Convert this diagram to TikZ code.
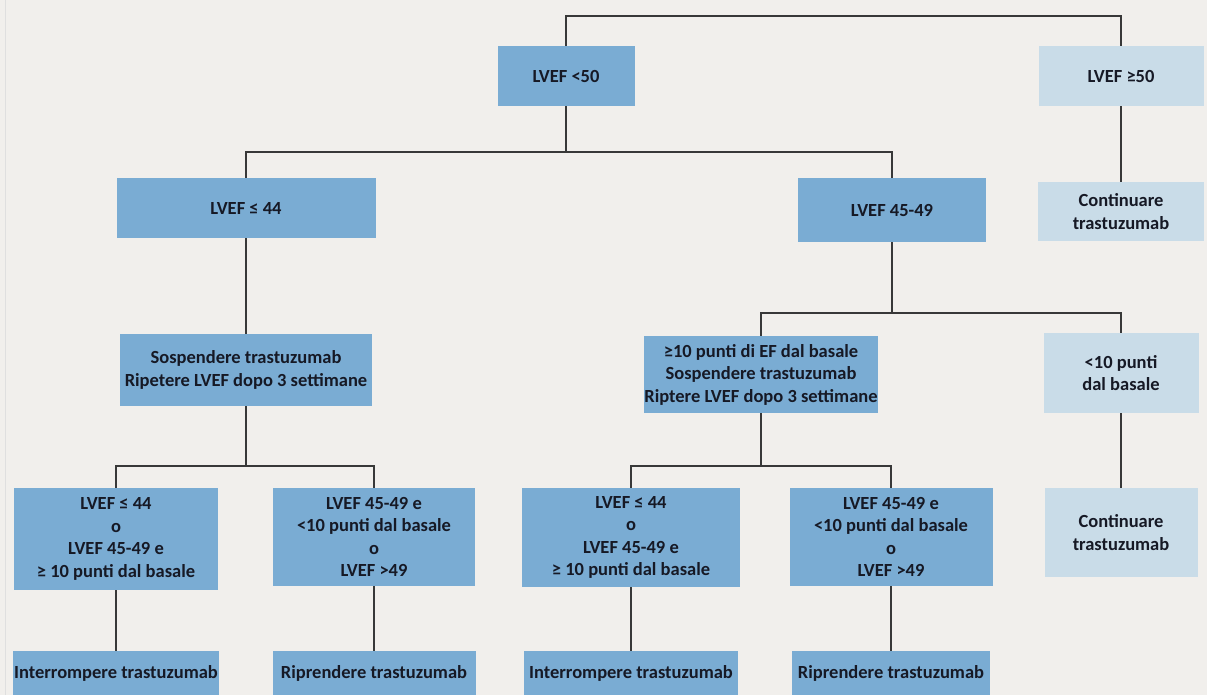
\documentclass[tikz,border=0pt]{standalone}
\usepackage{fontspec}
\setmainfont{Carlito}

\definecolor{bgcol}{HTML}{F1EFEC}
\definecolor{boxblue}{HTML}{7AACD3}
\definecolor{boxpale}{HTML}{C9DCE8}
\definecolor{ink}{HTML}{161925}
\definecolor{wirecol}{HTML}{383838}

\begin{document}
\begin{tikzpicture}[x=1pt, y=-1pt,
    box/.style={rectangle, fill=boxblue, text=ink, inner sep=0pt, align=center,
        font=\bfseries\fontsize{18.5}{22.5}\selectfont},
    pale/.style={box, fill=boxpale},
    wire/.style={draw=wirecol, line width=2.4pt}]

    % background
    \fill[bgcol] (0,0) rectangle (1207,695);
    \useasboundingbox (0,0) rectangle (1207,695);
    \draw[gray!25, line width=1pt] (5,0) -- (5,695);

    % first level
    \node[box, minimum width=137, minimum height=60] (lt50) at (566,76) {LVEF <50};
    \node[pale, minimum width=165, minimum height=60] (ge50) at (1121,76) {LVEF ≥50};

    % second level
    \node[box, minimum width=259, minimum height=60] (le44) at (246,208) {LVEF ≤ 44};
    \node[box, minimum width=188, minimum height=64] (r4549) at (892,210) {LVEF 45-49};
    \node[pale, minimum width=166, minimum height=59] (cont1) at (1121,211.5) {Continuare\\trastuzumab};

    % third level
    \node[box, minimum width=252, minimum height=72] (sosp) at (246,370)
        {Sospendere trastuzumab\\Ripetere LVEF dopo 3 settimane};
    \node[box, minimum width=232, minimum height=77] (ge10) at (761,374.5)
        {≥10 punti di EF dal basale\\Sospendere trastuzumab\\Riptere LVEF dopo 3 settimane};
    \node[pale, minimum width=155, minimum height=80] (lt10) at (1121,373) {<10 punti\\dal basale};

    % fourth level
    \node[box, minimum width=204, minimum height=102] (a1) at (116,539)
        {LVEF ≤ 44\\o\\LVEF 45-49 e\\≥ 10 punti dal basale};
    \node[box, minimum width=202, minimum height=98] (a2) at (374,537)
        {LVEF 45-49 e\\<10 punti dal basale\\o\\LVEF >49};
    \node[box, minimum width=218, minimum height=99] (a3) at (631,537.5)
        {LVEF ≤ 44\\o\\LVEF 45-49 e\\≥ 10 punti dal basale};
    \node[box, minimum width=203, minimum height=98] (a4) at (891,537)
        {LVEF 45-49 e\\<10 punti dal basale\\o\\LVEF >49};
    \node[pale, minimum width=153, minimum height=89] (cont2) at (1121,532.5) {Continuare\\trastuzumab};

    % outcomes
    \node[box, minimum width=206, minimum height=44] (b1) at (116,673) {Interrompere trastuzumab};
    \node[box, minimum width=203, minimum height=44] (b2) at (374,673) {Riprendere trastuzumab};
    \node[box, minimum width=214, minimum height=44] (b3) at (631,673) {Interrompere trastuzumab};
    \node[box, minimum width=198, minimum height=44] (b4) at (891,673) {Riprendere trastuzumab};

    % connectors
    \coordinate (top) at (840,16);
    \coordinate (split1) at (566,152);
    \coordinate (split2) at (892,313);
    \coordinate (split3) at (246,466);
    \coordinate (split4) at (761,466);

    \draw[wire] (lt50.north) |- (top) -| (ge50.north);
    \draw[wire] (lt50.south) -- (split1);
    \draw[wire] (le44.north) |- (split1) -| (r4549.north);
    \draw[wire] (ge50.south) -- (cont1.north);
    \draw[wire] (le44.south) -- (sosp.north);
    \draw[wire] (r4549.south) -- (split2);
    \draw[wire] (ge10.north) |- (split2) -| (lt10.north);
    \draw[wire] (lt10.south) -- (cont2.north);
    \draw[wire] (sosp.south) -- (split3);
    \draw[wire] (a1.north) |- (split3) -| (a2.north);
    \draw[wire] (ge10.south) -- (split4);
    \draw[wire] (a3.north) |- (split4) -| (a4.north);
    \draw[wire] (a1.south) -- (b1.north);
    \draw[wire] (a2.south) -- (b2.north);
    \draw[wire] (a3.south) -- (b3.north);
    \draw[wire] (a4.south) -- (b4.north);
\end{tikzpicture}
\end{document}
